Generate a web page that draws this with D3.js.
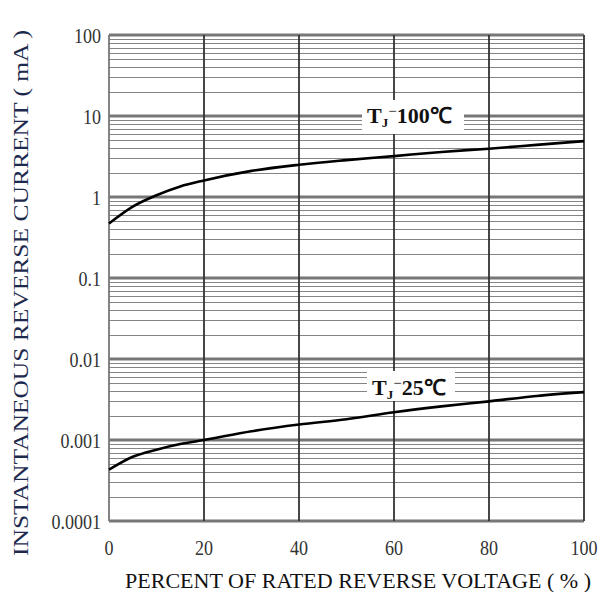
<!DOCTYPE html>
<html>
<head>
<meta charset="utf-8">
<script src="https://cdn.jsdelivr.net/npm/d3@7"></script>
<style>
  body { margin: 0; background: #fff; }
  svg { display: block; }
</style>
</head>
<body>
<svg id="chart" width="600" height="592"></svg>
<script>
// data
var xTicks = [0, 20, 40, 60, 80, 100];
var yTicks = [0.0001, 0.001, 0.01, 0.1, 1, 10, 100];
var yTickLabels = ['0.0001', '0.001', '0.01', '0.1', '1', '10', '100'];

var pct = [0, 5, 10, 15, 20, 30, 40, 50, 60, 70, 80, 90, 100];
var current100 = [0.47, 0.76, 1.05, 1.35, 1.6, 2.1, 2.5, 2.85, 3.2, 3.6, 3.95, 4.4, 4.9];
var current25 = [0.00043, 0.00062, 0.00076, 0.00089, 0.001, 0.00128, 0.00155, 0.0018, 0.0022, 0.0026, 0.003, 0.0035, 0.0039];

var svg = d3.select('#chart');
var plotLeft = 109, plotRight = 584, plotTop = 35, plotBottom = 521;
var serif = 'Liberation Serif, serif';

var x = d3.scaleLinear().domain([0, 100]).range([plotLeft, plotRight]);
var y = d3.scaleLog().domain([0.0001, 100]).range([plotBottom, plotTop]);

// minor horizontal grid (2..9 in each decade)
var minors = [];
for (var e = -4; e < 2; e++) {
  for (var m = 2; m <= 9; m++) minors.push(m * Math.pow(10, e));
}
svg.append('g').selectAll('line').data(minors).enter().append('line')
  .attr('x1', plotLeft).attr('x2', plotRight)
  .attr('y1', function(d) { return Math.round(y(d)) + 0.5; })
  .attr('y2', function(d) { return Math.round(y(d)) + 0.5; })
  .attr('stroke', '#858585').attr('stroke-width', 1.1);

// decade lines
svg.append('g').selectAll('line').data(yTicks).enter().append('line')
  .attr('x1', plotLeft).attr('x2', plotRight)
  .attr('y1', function(d) { return y(d); })
  .attr('y2', function(d) { return y(d); })
  .attr('stroke', '#777').attr('stroke-width', 3);

// vertical grid
svg.append('g').selectAll('line').data(xTicks.slice(1)).enter().append('line')
  .attr('x1', function(d) { return x(d); })
  .attr('x2', function(d) { return x(d); })
  .attr('y1', plotTop).attr('y2', plotBottom)
  .attr('stroke', '#333').attr('stroke-width', 1.8);

// left border
svg.append('line')
  .attr('x1', plotLeft).attr('x2', plotLeft).attr('y1', plotTop).attr('y2', plotBottom)
  .attr('stroke', '#777').attr('stroke-width', 1.8);

// curves
var line = d3.line()
  .x(function(d) { return x(d[0]); })
  .y(function(d) { return y(d[1]); })
  .curve(d3.curveMonotoneX);

[current100, current25].forEach(function(vals) {
  svg.append('path')
    .datum(pct.map(function(p, i) { return [p, vals[i]]; }))
    .attr('d', line)
    .attr('fill', 'none')
    .attr('stroke', '#000')
    .attr('stroke-width', 2.6);
});

// curve labels
function curveLabel(bx, by, bw, bh, tx, ty, temp) {
  svg.append('rect')
    .attr('x', bx).attr('y', by)
    .attr('width', bw).attr('height', bh)
    .attr('fill', '#fff');
  var t = svg.append('text')
    .attr('x', tx).attr('y', ty)
    .attr('font-family', serif)
    .attr('font-weight', 'bold')
    .attr('font-size', 22)
    .attr('fill', '#111');
  t.append('tspan').text('T');
  t.append('tspan').attr('font-size', 13).attr('dy', 4).text('J');
  t.append('tspan').attr('dy', -11).attr('font-size', 15).attr('font-weight', 'normal').text('\u2212');
  t.append('tspan').attr('dy', 7).text(temp + '\u2103');
}
curveLabel(362, 100, 102, 34, 367, 123, '100');
curveLabel(367, 371, 88, 30, 372, 395, '25');

// y tick labels (condensed serif)
svg.append('g').selectAll('text').data(yTicks).enter().append('text')
  .attr('transform', function(d) { return 'translate(101,' + (y(d) + 7.5) + ') scale(0.82,1)'; })
  .attr('text-anchor', 'end')
  .attr('font-family', serif)
  .attr('font-size', 22)
  .attr('fill', '#333')
  .text(function(d, i) { return yTickLabels[i]; });

// x tick labels
svg.append('g').selectAll('text').data(xTicks).enter().append('text')
  .attr('transform', function(d) { return 'translate(' + x(d) + ',555) scale(0.82,1)'; })
  .attr('text-anchor', 'middle')
  .attr('font-family', serif)
  .attr('font-size', 22)
  .attr('fill', '#333')
  .text(function(d) { return d; });

// axis titles
svg.append('text')
  .attr('x', 125).attr('y', 588)
  .attr('font-family', serif)
  .attr('font-size', 20)
  .attr('textLength', 466)
  .attr('lengthAdjust', 'spacingAndGlyphs')
  .attr('fill', '#111')
  .text('PERCENT OF RATED REVERSE VOLTAGE ( % )');

svg.append('text')
  .attr('transform', 'translate(28,556) rotate(-90)')
  .attr('font-family', serif)
  .attr('font-size', 21)
  .attr('textLength', 526)
  .attr('lengthAdjust', 'spacingAndGlyphs')
  .attr('fill', '#1d2a4e')
  .text('INSTANTANEOUS REVERSE CURRENT ( mA )');
</script>
</body>
</html>
